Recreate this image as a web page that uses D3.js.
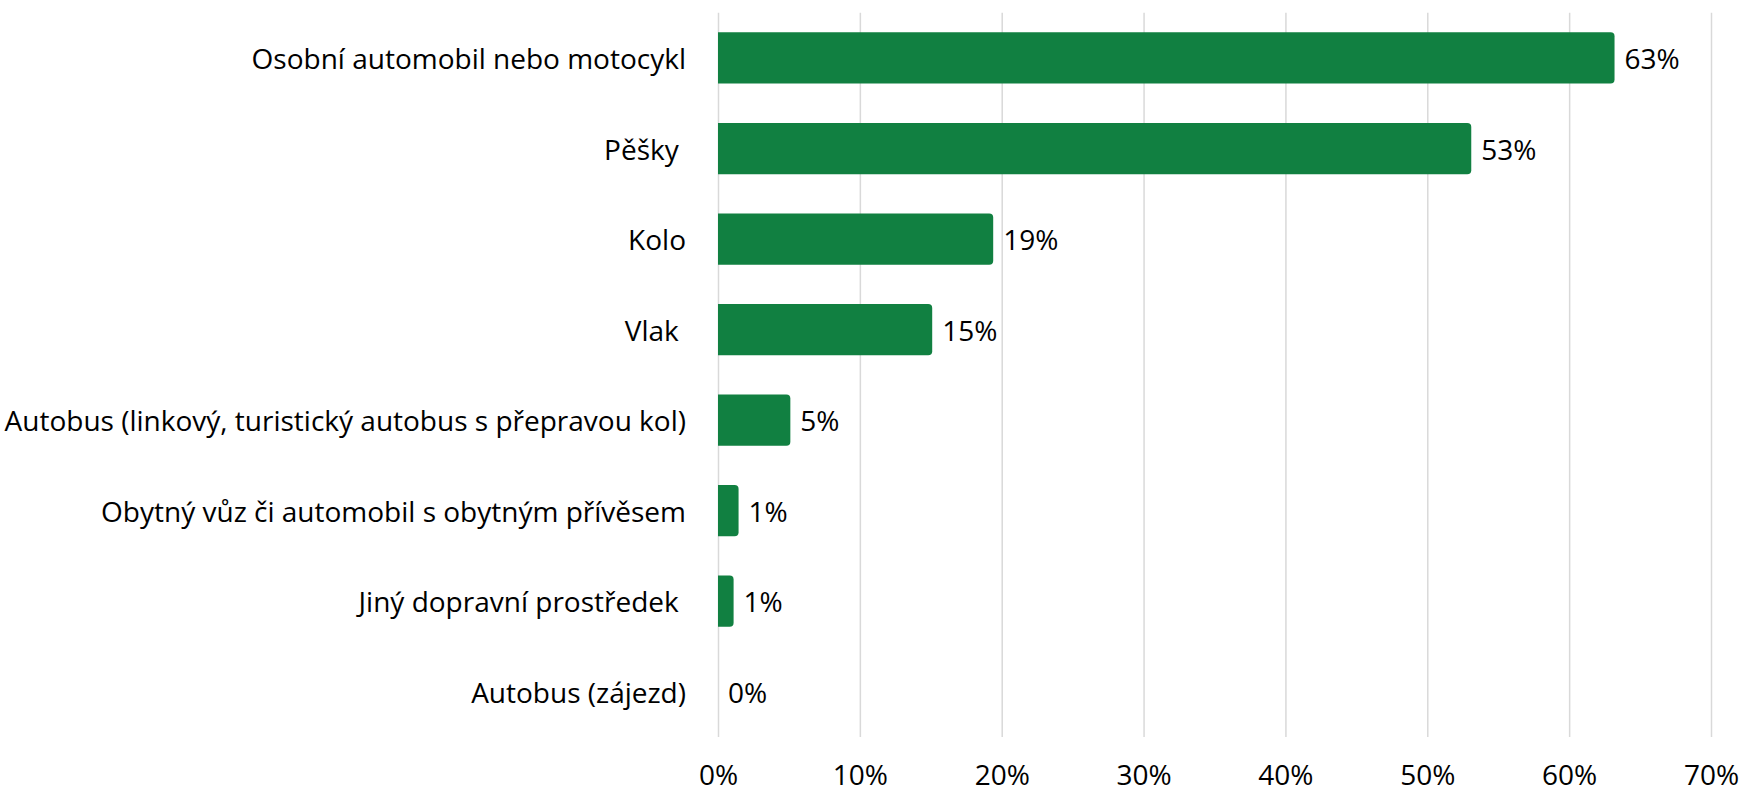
<!DOCTYPE html>
<html>
<head>
<meta charset="utf-8">
<script src="https://cdn.jsdelivr.net/npm/d3@7"></script>
<style>
  body { margin: 0; background: #fff; }
  text { font-family: "Open Sans", "Noto Sans", sans-serif; fill: #000; white-space: pre; }
</style>
</head>
<body>
<div id="chart"></div>
<script>
/* data */
const categories = [
    "Osobní automobil nebo motocykl",
    "Pěšky ",
    "Kolo",
    "Vlak ",
    "Autobus (linkový, turistický autobus s přepravou kol)",
    "Obytný vůz či automobil s obytným přívěsem",
    "Jiný dopravní prostředek ",
    "Autobus (zájezd)"
];
const values = [63.2, 53.1, 19.4, 15.1, 5.1, 1.45, 1.1, 0];
const tickValues = [0, 10, 20, 30, 40, 50, 60, 70];

window.addEventListener("DOMContentLoaded", main)

function main() {
    const W = 1742, H = 793;
    const left = 718, right = 1711, top = 12.7, bottom = 737;
    const green = "#118041";
    const fs = 28;

    const svg = d3.select("#chart").append("svg").attr("width", W).attr("height", H)

    const x = d3.scaleLinear().domain([0, 70]).range([left, right]);
    const y = d3.scaleBand().domain(categories).range([top, bottom])
        .paddingInner(0.434).paddingOuter(0.217);

    /* grid + tick labels */
    const xAxis = d3.axisBottom(x)
        .tickValues(tickValues)
        .tickSize(-(bottom - top))
        .tickFormat(d => d + "%");

    const g = svg.append("g")
        .attr("transform", "translate(0," + bottom + ")")
        .call(xAxis);
    g.select(".domain").remove();
    g.selectAll(".tick line").attr("stroke", "#d9d9d9").attr("stroke-width", 1.5);
    g.selectAll(".tick text")
        .attr("y", 48)
        .attr("dy", null)
        .attr("font-size", fs)
        .attr("font-family", null);

    /* bars with rounded right end */
    function barPath(x0, y0, w, h, r) {
        if (w <= 0) return "";
        r = Math.min(r, w, h / 2);
        return "M" + x0 + "," + y0 +
            "H" + (x0 + w - r) +
            "Q" + (x0 + w) + "," + y0 + " " + (x0 + w) + "," + (y0 + r) +
            "V" + (y0 + h - r) +
            "Q" + (x0 + w) + "," + (y0 + h) + " " + (x0 + w - r) + "," + (y0 + h) +
            "H" + x0 + "Z";
    }

    svg.selectAll(".bar")
        .data(values)
        .enter()
        .append("path")
        .attr("class", "bar")
        .attr("d", (d, i) => barPath(x(0), y(categories[i]), x(d) - x(0), y.bandwidth(), 4))
        .attr("fill", green);

    /* value labels */
    svg.selectAll(".val")
        .data(values)
        .enter()
        .append("text")
        .attr("class", "val")
        .attr("x", d => x(d) + 10)
        .attr("y", (d, i) => y(categories[i]) + y.bandwidth() / 2)
        .attr("dy", "0.4em")
        .attr("font-size", fs)
        .text(d => Math.round(d) + "%");

    /* category labels */
    svg.selectAll(".cat")
        .data(categories)
        .enter()
        .append("text")
        .attr("class", "cat")
        .attr("x", left - 32)
        .attr("y", d => y(d) + y.bandwidth() / 2)
        .attr("dy", "0.4em")
        .attr("text-anchor", "end")
        .attr("font-size", fs)
        .text(d => d);
}
</script>
</body>
</html>
